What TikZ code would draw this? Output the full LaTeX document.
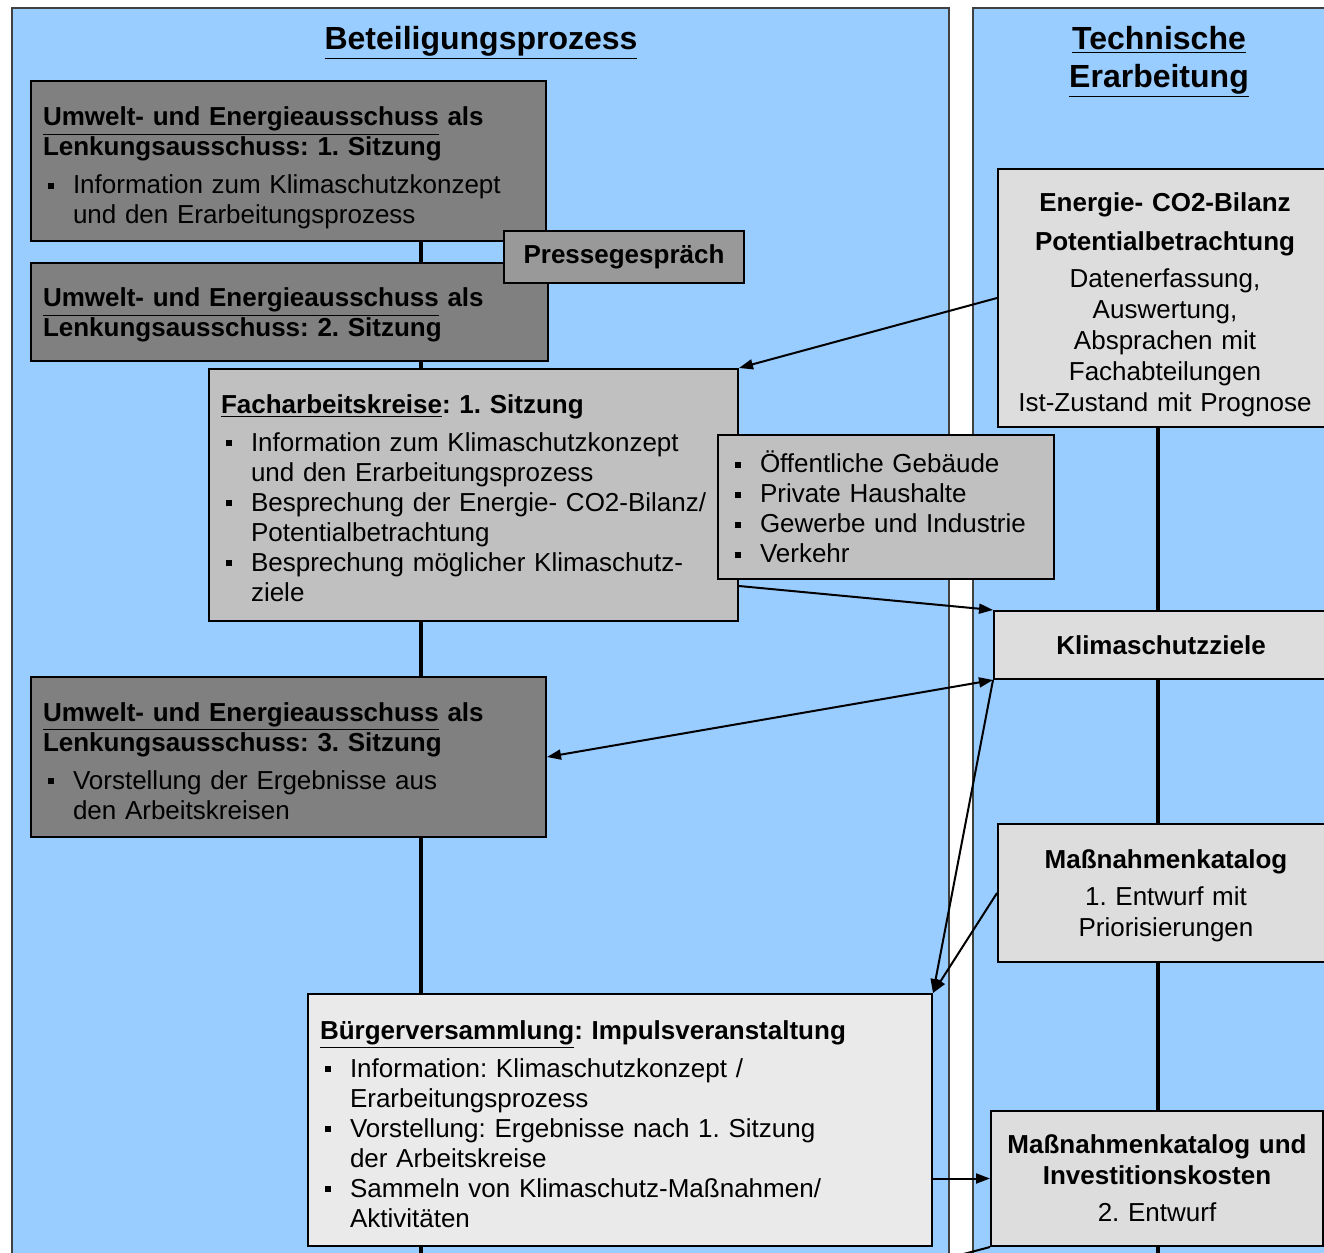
\documentclass[tikz,border=0pt]{standalone}
\usepackage{fontspec}
\setmainfont{Liberation Sans}
\usetikzlibrary{arrows.meta, calc}

\definecolor{paneblue}{HTML}{99CCFF}
\definecolor{uagray}{HTML}{808080}
\definecolor{pressgray}{HTML}{999999}
\definecolor{fakgray}{HTML}{C0C0C0}
\definecolor{buergergray}{HTML}{EAEAEA}
\definecolor{techgray}{HTML}{DDDDDD}

\frenchspacing
\newcommand{\oben}[1]{\rule{0pt}{#1}}
\newcommand{\kopf}[2][12.5pt]{{\bfseries\oben{#1}#2\par}\vspace{4pt}}
\newcommand{\bpunkt}[1]{\hangindent=15pt\hangafter=1\noindent\makebox[15pt][l]{\hspace{2.5pt}\rule[2.5pt]{3pt}{3pt}}#1\par}

\begin{document}
\begin{tikzpicture}[x=0.5pt, y=-0.5pt]
\tikzset{
    >={Triangle[length=7pt,width=5pt]},
    every node/.style={font=\fontsize{13}{15}\selectfont},
    feld/.style={draw=black!75, line width=1pt, fill=paneblue},
    titel/.style={font=\fontsize{16}{19}\selectfont\bfseries, align=center},
    kasten/.style={draw, line width=1pt, anchor=north west, inner xsep=6pt, inner ysep=4pt},
    ausschuss/.style={kasten, fill=uagray, align=left},
    presse/.style={kasten, fill=pressgray, font=\fontsize{13}{15}\selectfont\bfseries},
    arbeitskreis/.style={kasten, fill=fakgray, align=left},
    buerger/.style={kasten, fill=buergergray, align=left},
    technisch/.style={kasten, inner ysep=2pt, fill=techgray, align=center, font=\fontsize{13}{15.5}\selectfont},
    spine/.style={line width=2.2pt},
    pfeil/.style={line width=1pt, ->},
    doppelpfeil/.style={line width=1pt, <->}
}

\useasboundingbox (0,0) rectangle (1324,1253);
\clip (0,0) rectangle (1324,1253);
\fill[white] (0,0) rectangle (1324,1253);

% Panels
\draw[feld] (12,8) rectangle (949,1270);
\draw[feld] (973,8) rectangle (1345,1270);

\node[titel] (beteil) at (481,43) {\underline{Beteiligungsprozess}};
\node[titel] (technik) at (1159,62) {\underline{Technische}\\\underline{Erarbeitung}};

% Beteiligungsprozess
\node[ausschuss, text width=245.5pt, minimum height=80pt] (ua1) at (30,80)
    {\kopf[16.5pt]{\underline{Umwelt- und Energieausschuss} als\\Lenkungsausschuss: 1. Sitzung}%
     \bpunkt{Information zum Klimaschutzkonzept\newline und den Erarbeitungsprozess}};
\node[ausschuss, text width=246.5pt, minimum height=49pt] (ua2) at (30,262)
    {{\bfseries\oben{12.5pt}\underline{Umwelt- und Energieausschuss} als\\Lenkungsausschuss: 2. Sitzung}};
\node[presse, minimum width=120pt, minimum height=26pt] (presse) at (503,230) {Pressegespräch};

\node[arbeitskreis, text width=252.5pt, minimum height=126pt] (fak) at (208,368)
    {\kopf{\underline{Facharbeitskreise}: 1. Sitzung}%
     \bpunkt{Information zum Klimaschutzkonzept\newline und den Erarbeitungsprozess}
     \bpunkt{Besprechung der Energie- CO2-Bilanz/\newline Potentialbetrachtung}
     \bpunkt{Besprechung möglicher Klimaschutz-\newline ziele}};
\node[arbeitskreis, text width=156pt, minimum height=72pt] (sektoren) at (717,434)
    {\bpunkt{Öffentliche Gebäude}
     \bpunkt{Private Haushalte}
     \bpunkt{Gewerbe und Industrie}
     \bpunkt{Verkehr}};

\node[ausschuss, text width=245.5pt, minimum height=80pt] (ua3) at (30,676)
    {\kopf[13.5pt]{\underline{Umwelt- und Energieausschuss} als\\Lenkungsausschuss: 3. Sitzung}%
     \bpunkt{Vorstellung der Ergebnisse aus\newline den Arbeitskreisen}};

\node[buerger, text width=300pt, minimum height=126pt] (versammlung) at (307,993)
    {\kopf[13.5pt]{\underline{Bürgerversammlung}: Impulsveranstaltung}%
     \bpunkt{Information: Klimaschutzkonzept /\newline Erarbeitungsprozess}
     \bpunkt{Vorstellung: Ergebnisse nach 1. Sitzung\newline der Arbeitskreise}
     \bpunkt{Sammeln von Klimaschutz-Maßnahmen/\newline Aktivitäten}};

% Technische Erarbeitung
\node[technisch, text width=155pt, minimum height=129pt] (bilanz) at (997,168)
    {{\bfseries\oben{16.5pt}Energie- CO2-Bilanz\\[4pt]Potentialbetrachtung}\\[3pt]
     Datenerfassung,\\Auswertung,\\Absprachen mit\\Fachabteilungen\\Ist-Zustand mit Prognose};
\node[technisch, text width=155pt, minimum height=34pt] (ziele) at (993,610)
    {\bfseries Klimaschutzziele};
\node[technisch, text width=156pt, minimum height=69pt] (katalog) at (997,823)
    {{\bfseries\oben{12.5pt}Maßnahmenkatalog}\\[3pt]1. Entwurf mit\\Priorisierungen};
\node[technisch, text width=154pt, minimum height=67.5pt] (kosten) at (990,1110)
    {{\bfseries Maßnahmenkatalog und\\Investitionskosten}\\[3pt]2. Entwurf};

% Zeitachsen
\coordinate (lx) at (421,0);
\coordinate (rx) at (1158,0);
\coordinate (lende) at (421,1270);
\coordinate (rende) at (1158,1270);
\coordinate (weiter) at (922,1265);

\draw[spine] (ua1.south -| lx) -- (ua2.north -| lx);
\draw[spine] (ua2.south -| lx) -- (fak.north -| lx);
\draw[spine] (fak.south -| lx) -- (ua3.north -| lx);
\draw[spine] (ua3.south -| lx) -- (versammlung.north -| lx);
\draw[spine] (versammlung.south -| lx) -- (lende);

\draw[spine] (bilanz.south -| rx) -- (ziele.north -| rx);
\draw[spine] (ziele.south -| rx) -- (katalog.north -| rx);
\draw[spine] (katalog.south -| rx) -- (kosten.north -| rx);
\draw[spine] (kosten.south -| rx) -- (rende);

% Verbindungen
\draw[pfeil] (bilanz.west) -- (fak.north east);
\draw[pfeil] ($(fak.south east)+(0,-36)$) -- (ziele.north west);
\draw[doppelpfeil] (ua3.east) -- (ziele.south west);
\draw[pfeil] (ziele.south west) -- (versammlung.north east);
\draw[pfeil] (katalog.west) -- (versammlung.north east);
\draw[pfeil] (versammlung.east |- kosten.west) -- (kosten.west);
\draw[line width=1pt] (kosten.south west) -- (weiter);

\end{tikzpicture}
\end{document}
